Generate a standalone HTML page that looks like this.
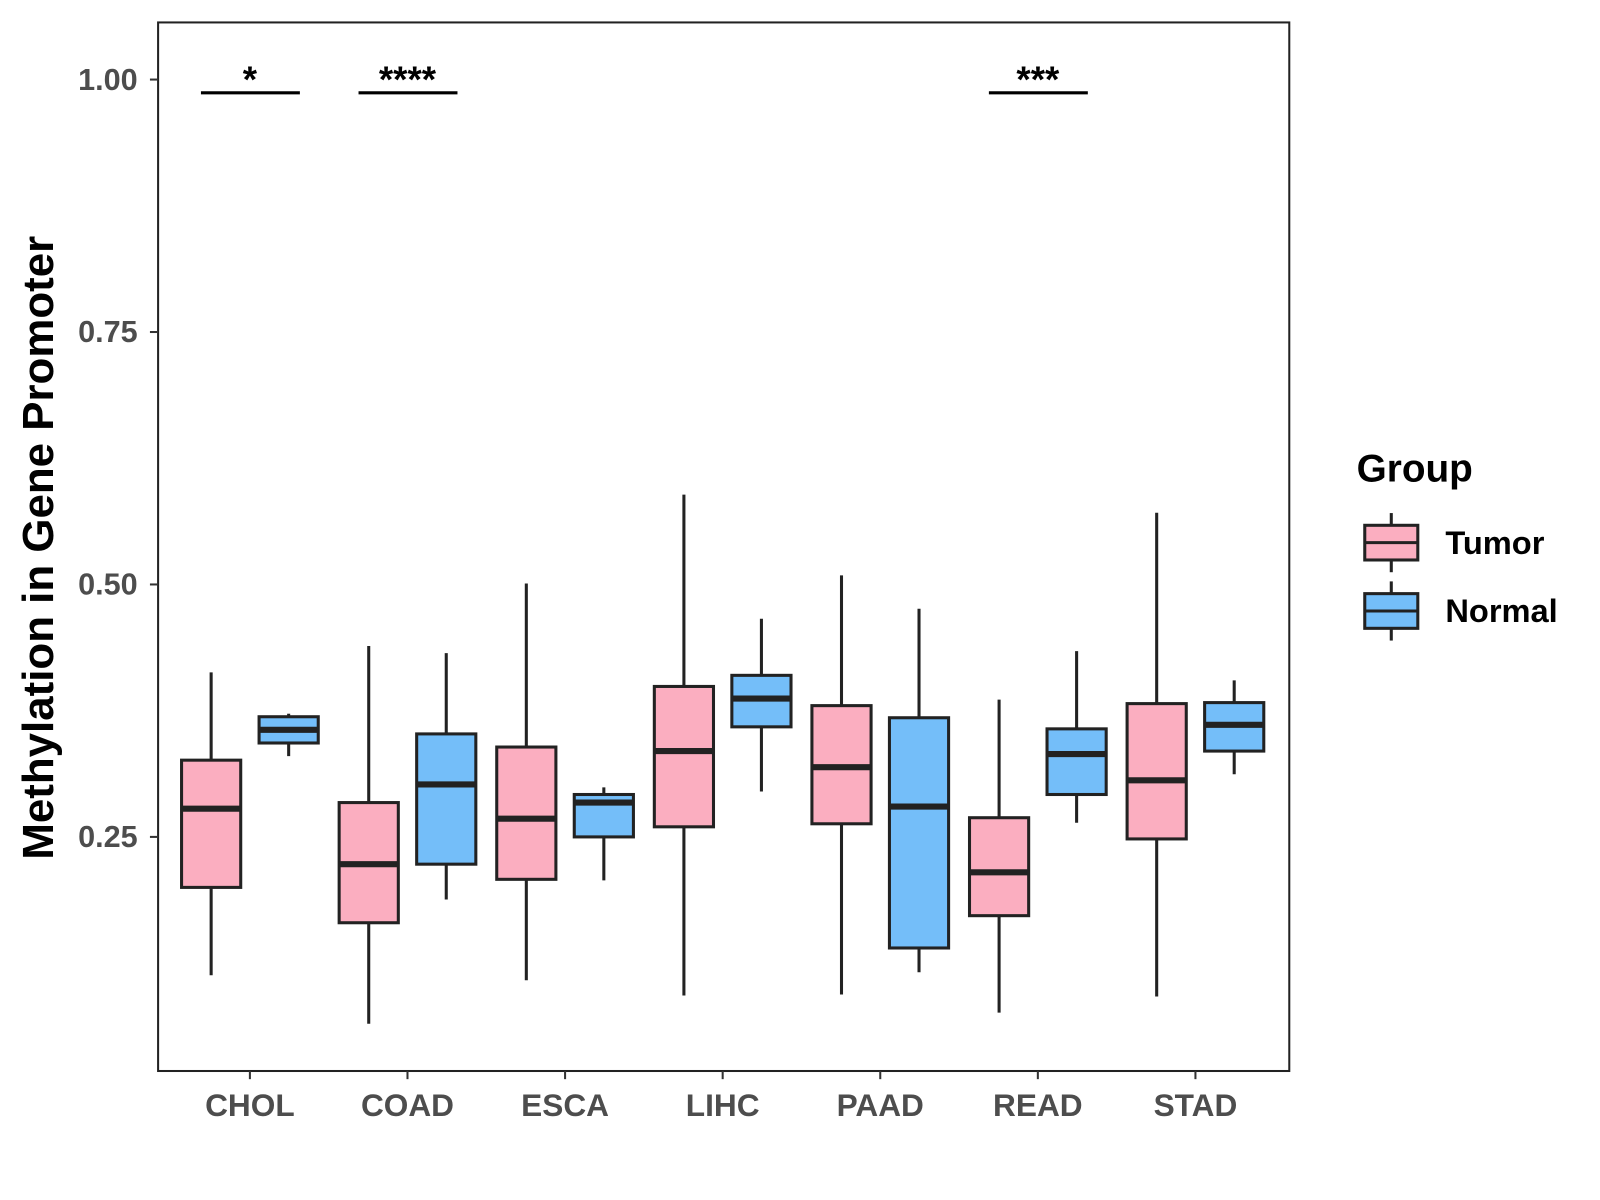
<!DOCTYPE html>
<html><head><meta charset="utf-8"><style>
html,body{margin:0;padding:0;background:#fff;}
svg{display:block;font-family:"Liberation Sans",Arial,sans-serif;}
</style></head><body>
<svg id="chart" width="1600" height="1200" viewBox="0 0 1600 1200">
<rect x="0" y="0" width="1600" height="1200" fill="#fff"/>
<g id="plot" transform="scale(1.02)"></g>
</svg>
<script>
const categories = ["CHOL","COAD","ESCA","LIHC","PAAD","READ","STAD"];
// [whiskerLow, Q1, median, Q3, whiskerHigh]
const tumorStats = [
 [0.113,0.200,0.278,0.326,0.413],
 [0.065,0.165,0.223,0.284,0.439],
 [0.108,0.208,0.268,0.339,0.501],
 [0.093,0.260,0.335,0.399,0.589],
 [0.094,0.263,0.319,0.380,0.509],
 [0.076,0.172,0.215,0.269,0.386],
 [0.092,0.248,0.306,0.382,0.571]
];
const normalStats = [
 [0.330,0.343,0.356,0.369,0.372],
 [0.188,0.223,0.302,0.352,0.432],
 [0.207,0.250,0.284,0.292,0.299],
 [0.295,0.359,0.387,0.410,0.466],
 [0.116,0.140,0.280,0.368,0.476],
 [0.264,0.292,0.332,0.357,0.434],
 [0.312,0.335,0.361,0.383,0.405]
];
const yTicks = [0.25,0.50,0.75,1.00];
const yTickLabels = ["0.25","0.50","0.75","1.00"];
const sigCategories = ["CHOL","COAD","READ"];
const sigLabels = ["*","****","***"];

const NS="http://www.w3.org/2000/svg";
const g=document.getElementById('plot');
const px0=155, px1=1264, py0=22, py1=1050;
function y(v){return 78+(1-v)*990;}
function xc(i){return 245+i*154.5;}
function el(t,a){const e=document.createElementNS(NS,t);for(const k in a)e.setAttribute(k,a[k]);g.appendChild(e);return e;}

let p=el('rect',{x:px0,y:py0,width:px1-px0,height:py1-py0,fill:'none',stroke:'#222','stroke-width':2});



yTicks.forEach((v,i)=>{
 let t=el('line',{x1:px0-8,x2:px0,y1:y(v),y2:y(v),stroke:'#333','stroke-width':2});
 
 
 let l=el('text',{x:px0-20,y:y(v)+10,'text-anchor':'end','font-size':30,'font-weight':'bold',fill:'#4d4d4d'});
 l.textContent=yTickLabels[i];
 
 
});
categories.forEach((c,i)=>{
 let t=el('line',{x1:xc(i),x2:xc(i),y1:py1,y2:py1+8,stroke:'#333','stroke-width':2});
 
 
 let l=el('text',{x:xc(i),y:py1+44,'text-anchor':'middle','font-size':31,'font-weight':'bold',fill:'#4d4d4d'});
 l.textContent=c;
 
 
});

function box(cx,s,fill,name){
 const w=58;
 let wl=el('line',{x1:cx,x2:cx,y1:y(s[4]),y2:y(s[0]),stroke:'#222','stroke-width':3});
 
 
 let r=el('rect',{x:cx-w/2,y:y(s[3]),width:w,height:y(s[1])-y(s[3]),fill:fill,stroke:'#222','stroke-width':3});
 
 
 let m=el('line',{x1:cx-w/2,x2:cx+w/2,y1:y(s[2]),y2:y(s[2]),stroke:'#222','stroke-width':6});
 
 
}
categories.forEach((c,i)=>{
 box(xc(i)-38,tumorStats[i],'#FBAEC0',c.toLowerCase()+'-tumor');
 box(xc(i)+38,normalStats[i],'#74BEF9',c.toLowerCase()+'-normal');
});

sigCategories.forEach((c,k)=>{
 const i=categories.indexOf(c);
 let l=el('line',{x1:xc(i)-48,x2:xc(i)+49,y1:91,y2:91,stroke:'#000','stroke-width':3});
 
 
 let t=el('text',{x:xc(i),y:90,'text-anchor':'middle','font-size':36,'font-weight':'bold',fill:'#000'});
 t.textContent=sigLabels[k];
 
 
});

let yt=el('text',{x:0,y:0,transform:'translate(52,537) rotate(-90)','text-anchor':'middle','font-size':43,'font-weight':'bold',fill:'#000'});
yt.textContent='Methylation in Gene Promoter';



let lt=el('text',{x:1330,y:472,'font-size':38,'font-weight':'bold',fill:'#000'});
lt.textContent='Group';


[['Tumor','#FBAEC0',532],['Normal','#74BEF9',599]].forEach(([n,f,cy])=>{
 let ln=el('line',{x1:1364,x2:1364,y1:cy-29,y2:cy+29,stroke:'#222','stroke-width':3});
 
 
 let r=el('rect',{x:1338,y:cy-17,width:52,height:34,fill:f,stroke:'#222','stroke-width':3});
 
 
 let m=el('line',{x1:1338,x2:1390,y1:cy,y2:cy,stroke:'#222','stroke-width':3});
 
 
 let t=el('text',{x:1417,y:cy+11,'font-size':32,'font-weight':'bold',fill:'#000'});
 t.textContent=n;
 
 
});
</script>
</body></html>
